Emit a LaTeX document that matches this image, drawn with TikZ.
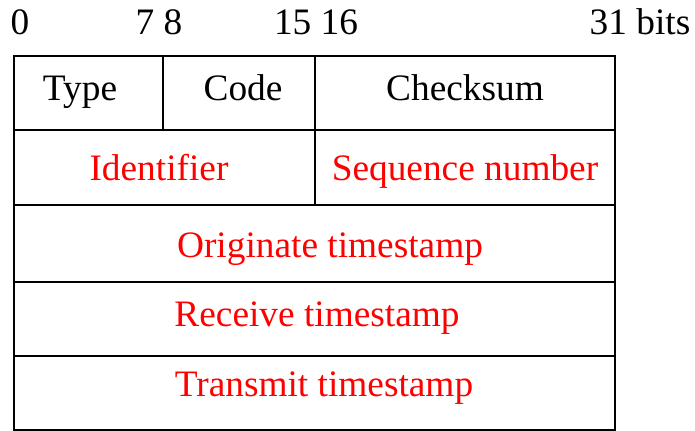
\documentclass[tikz,border=0pt]{standalone}
\usepackage{fontspec}
\setmainfont{Liberation Serif}
\usepackage{tikz}
\usepackage{color}

\begin{document}
\begin{tikzpicture}[x=0.75pt,y=0.75pt,yscale=-1,xscale=1,
  bitlbl/.style={anchor=base,inner sep=0pt,font=\fontsize{28}{32}\selectfont},
  fieldlbl/.style={anchor=base,inner sep=0pt,font=\fontsize{28}{32}\selectfont},
  redlbl/.style={fieldlbl,text={rgb, 255:red, 255; green, 0; blue, 0 }}]
\useasboundingbox (0,0) rectangle (695,431);

%Shape: Rectangle [id:outer] 
\draw  [line width=2.2pt] (14,56) -- (615,56) -- (615,430) -- (14,430) -- cycle ;
%Straight Lines [id:rows] 
\draw  [line width=2.2pt] (14,130) -- (615,130) ;
\draw  [line width=2.2pt] (14,205) -- (615,205) ;
\draw  [line width=2.2pt] (14,282) -- (615,282) ;
\draw  [line width=2.2pt] (14,356) -- (615,356) ;
%Straight Lines [id:cols] 
\draw  [line width=2.2pt] (163,56) -- (163,130) ;
\draw  [line width=2.2pt] (315,56) -- (315,205) ;

% bit positions
\node [bitlbl] (bit0) at (20,35) {0};
\node [bitlbl] (bit78) at (159,35) {7 8};
\node [bitlbl] (bit1516) at (316,35) {15 16};
\node [bitlbl] (bit31) at (640,35) {31 bits};

% fields
\node [fieldlbl] (type) at (80,101) {Type};
\node [fieldlbl] (code) at (243,101) {Code};
\node [fieldlbl] (checksum) at (465,101) {Checksum};
\node [redlbl] (ident) at (159,180) {Identifier};
\node [redlbl] (seqnum) at (465,180) {Sequence number};
\node [redlbl] (origts) at (330,257) {Originate timestamp};
\node [redlbl] (recvts) at (317,326) {Receive timestamp};
\node [redlbl] (transts) at (324,396) {Transmit timestamp};

\end{tikzpicture}
\end{document}
